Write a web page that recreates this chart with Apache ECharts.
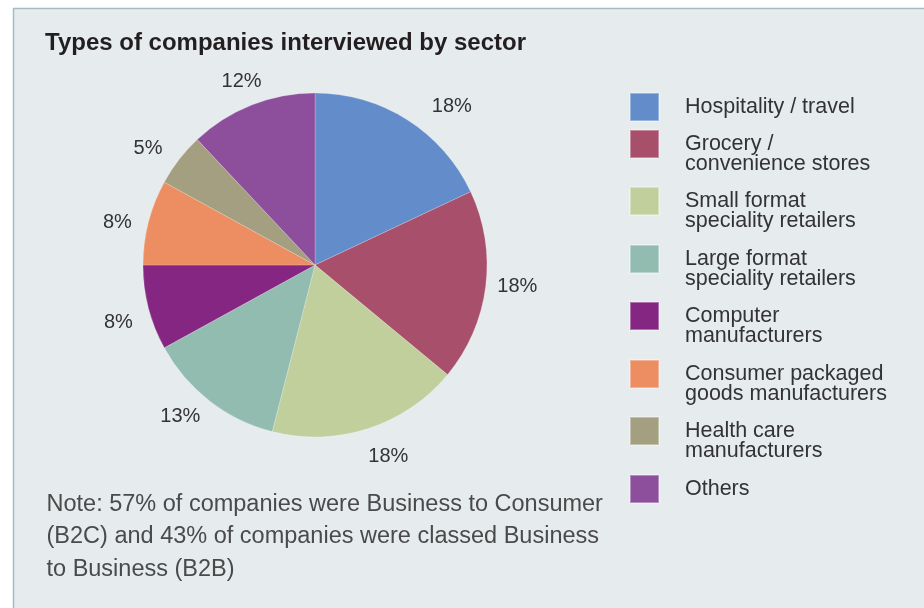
<!DOCTYPE html>
<html>
<head>
<meta charset="utf-8">
<style>
  html, body { margin: 0; padding: 0; background: #ffffff; }
  #chart { width: 924px; height: 608px; }
</style>
<script src="https://cdn.jsdelivr.net/npm/echarts@6/dist/echarts.min.js"></script>
</head>
<body>
<div id="chart"></div>
<script>
// Sector breakdown of interviewed companies (percent of total)
var sectors = [
  'Hospitality / travel',
  'Grocery /\nconvenience stores',
  'Small format\nspeciality retailers',
  'Large format\nspeciality retailers',
  'Computer\nmanufacturers',
  'Consumer packaged\ngoods manufacturers',
  'Health care\nmanufacturers',
  'Others'
];
var shares = [18, 18, 18, 13, 8, 8, 5, 12];
var sectorColors = ['#628dca', '#a8506b', '#c0cf9c', '#93bcb1', '#842682', '#ec8d62', '#a39f80', '#8d4f9c'];

var titleText = 'Types of companies interviewed by sector';
var noteText = 'Note: 57% of companies were Business to Consumer\n(B2C) and 43% of companies were classed Business\nto Business (B2B)';

// Layout: top edge of each legend swatch
var legendSwatchTops = [92, 129, 186, 244, 301, 359, 416, 474];
// Fine placement of the percentage labels around the pie (pixel offsets)
var labelNudges = [[27, 15], [-1, -4], [10, -3], [-9, -10], [2, 7], [1, 8], [-5, 9], [2, 7]];

var FONT = '"Liberation Sans", Arial, Helvetica, sans-serif';

var pieData = sectors.map(function (name, i) {
  return { name: name, value: shares[i] };
});
var labelData = sectors.map(function (name, i) {
  return { name: name, value: shares[i], label: { offset: labelNudges[i] } };
});

var legends = sectors.map(function (name, i) {
  var twoLine = name.indexOf('\n') >= 0;
  return {
    data: [name],
    left: 629,
    top: twoLine ? legendSwatchTops[i] - 16 : legendSwatchTops[i],
    orient: 'vertical',
    padding: 0,
    icon: 'rect',
    itemWidth: 29,
    itemHeight: 28,
    selectedMode: false,
    // an empty leading line keeps the first text line level with the swatch
    formatter: function (n) { return n.indexOf('\n') >= 0 ? '\n' + n : n; },
    textStyle: {
      fontFamily: FONT,
      fontSize: 21.5,
      lineHeight: 20,
      color: '#333333',
      padding: [0, 0, 0, 21]
    }
  };
});

var chart = echarts.init(document.getElementById('chart'), null, { renderer: 'canvas' });
chart.setOption({
  animation: false,
  backgroundColor: '#ffffff',
  color: sectorColors,
  graphic: [{
    type: 'rect',
    z: -10,
    shape: { x: 13.5, y: 8.5, width: 1000, height: 1000 },
    style: { fill: '#e6ebee', stroke: '#a7bac5', lineWidth: 1.5 }
  }],
  title: [{
    text: titleText,
    left: 45,
    top: 31.5,
    padding: 0,
    textStyle: { fontFamily: FONT, fontSize: 24, fontWeight: 'bold', color: '#231f20' }
  }, {
    text: noteText,
    left: 46.5,
    top: 488,
    padding: 0,
    textStyle: { fontFamily: FONT, fontSize: 23.5, fontWeight: 'normal', color: '#4a4a4a', lineHeight: 32.5 }
  }],
  legend: legends,
  series: [{
    type: 'pie',
    center: [315, 265],
    radius: [0, 172],
    startAngle: 90,
    clockwise: true,
    silent: true,
    label: { show: false },
    labelLine: { show: false },
    itemStyle: { borderColor: 'rgba(255,255,255,0.35)', borderWidth: 0.6 },
    data: pieData
  }, {
    // transparent ring that carries the percentage labels
    type: 'pie',
    center: [315, 265],
    radius: [190, 214],
    startAngle: 90,
    clockwise: true,
    silent: true,
    legendHoverLink: false,
    itemStyle: { color: 'rgba(0,0,0,0)', borderWidth: 0 },
    label: {
      show: true,
      position: 'inside',
      formatter: '{c}%',
      fontFamily: FONT,
      fontSize: 20,
      color: '#333333'
    },
    labelLine: { show: false },
    data: labelData
  }]
});
</script>
</body>
</html>
